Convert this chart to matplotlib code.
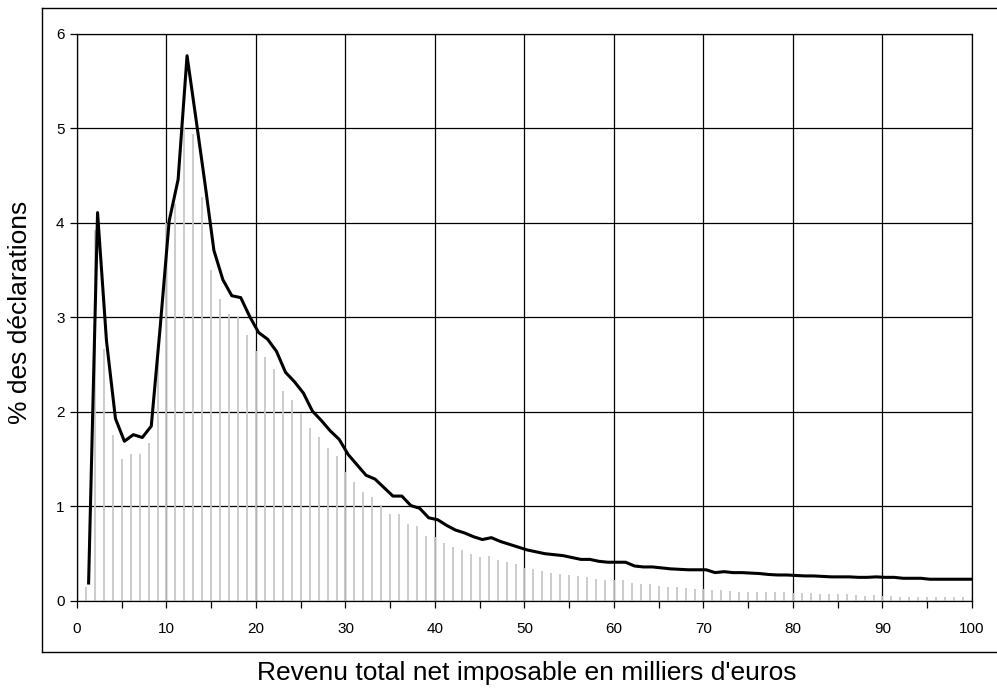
import numpy as np
import matplotlib.pyplot as plt
from matplotlib.lines import Line2D

plt.rcParams['font.family'] = ['Liberation Sans', 'DejaVu Sans']

# revenu en milliers d'euros (tranches de 1000 euros)
revenu = np.arange(1, 101)

# % des declarations - courbe noire
courbe = [0.19, 4.11, 2.75, 1.93, 1.69, 1.76, 1.73, 1.85, 2.90, 4.02,
          4.46, 5.77, 5.10, 4.42, 3.71, 3.40, 3.23, 3.21, 3.01, 2.84,
          2.77, 2.64, 2.42, 2.32, 2.20, 2.01, 1.91, 1.80, 1.71, 1.55,
          1.44, 1.33, 1.29, 1.20, 1.11, 1.11, 1.01, 0.98, 0.88, 0.86,
          0.80, 0.75, 0.72, 0.68, 0.65, 0.67, 0.63, 0.60, 0.57, 0.54,
          0.52, 0.50, 0.49, 0.48, 0.46, 0.44, 0.44, 0.42, 0.41, 0.41,
          0.41, 0.37, 0.36, 0.36, 0.35, 0.34, 0.335, 0.33, 0.33, 0.33,
          0.30, 0.31, 0.30, 0.30, 0.295, 0.29, 0.28, 0.275, 0.275, 0.27,
          0.265, 0.265, 0.26, 0.255, 0.255, 0.255, 0.25, 0.25, 0.255, 0.25,
          0.25, 0.24, 0.24, 0.24, 0.23, 0.23, 0.23, 0.23, 0.23, 0.23]

# barres grises
barres = [0.15, 3.93, 2.67, 1.76, 1.50, 1.56, 1.55, 1.67, 2.60, 4.00,
          4.20, 5.00, 4.94, 4.27, 3.50, 3.20, 3.04, 3.01, 2.81, 2.65,
          2.58, 2.45, 2.22, 2.13, 1.99, 1.83, 1.74, 1.62, 1.53, 1.37,
          1.26, 1.15, 1.10, 1.02, 0.92, 0.92, 0.81, 0.79, 0.69, 0.68,
          0.61, 0.57, 0.54, 0.50, 0.47, 0.48, 0.43, 0.41, 0.39, 0.35,
          0.34, 0.32, 0.30, 0.29, 0.27, 0.26, 0.25, 0.23, 0.22, 0.22,
          0.22, 0.19, 0.18, 0.18, 0.16, 0.15, 0.145, 0.14, 0.13, 0.13,
          0.12, 0.116, 0.106, 0.10, 0.10, 0.10, 0.09, 0.09, 0.09, 0.085,
          0.08, 0.08, 0.07, 0.07, 0.07, 0.07, 0.063, 0.056, 0.063, 0.05,
          0.056, 0.046, 0.046, 0.046, 0.046, 0.04, 0.04, 0.04, 0.04, 0.046]

fig = plt.figure(figsize=(9.97, 6.88), dpi=100)
ax = fig.add_axes([0.0772, 0.1265, 0.8977, 0.8241])

# cadre exterieur du graphique
fx0, fy0, fy1 = 42 / 997, 1 - 652 / 688, 1 - 8 / 688
for xs, ys in [([fx0, 1.0], [fy1, fy1]), ([fx0, fx0], [fy0, fy1]), ([fx0, 1.0], [fy0, fy0])]:
    fig.add_artist(Line2D(xs, ys, transform=fig.transFigure, color='black', lw=1.0))

ax.grid(True, color='black', lw=0.9)
ax.set_axisbelow(True)
ax.vlines(revenu, 0, barres, color='#c8c8c8', lw=1.3, zorder=2)
ax.plot(revenu + 0.3, courbe, color='black', lw=2.2, zorder=3)

ax.set_xlim(0, 100)
ax.set_ylim(0, 6)
ax.set_xticks(np.arange(0, 101, 10))
ax.set_xticks(np.arange(0, 101, 5), minor=True)
ax.set_yticks(np.arange(0, 7, 1))
ax.tick_params(which='both', direction='out', length=5, width=0.9, labelsize=11)
ax.tick_params(axis='x', pad=10)
ax.tick_params(axis='y', pad=4)
for s in ax.spines.values():
    s.set_linewidth(0.9)

fig.text(20 / 997, 1 - 312 / 688, '% des déclarations', rotation=90,
         ha='center', va='center', fontsize=19)
fig.text(527 / 997, 1 - 673 / 688, "Revenu total net imposable en milliers d'euros",
         ha='center', va='center', fontsize=19)

fig.savefig('out.png', dpi=100)
